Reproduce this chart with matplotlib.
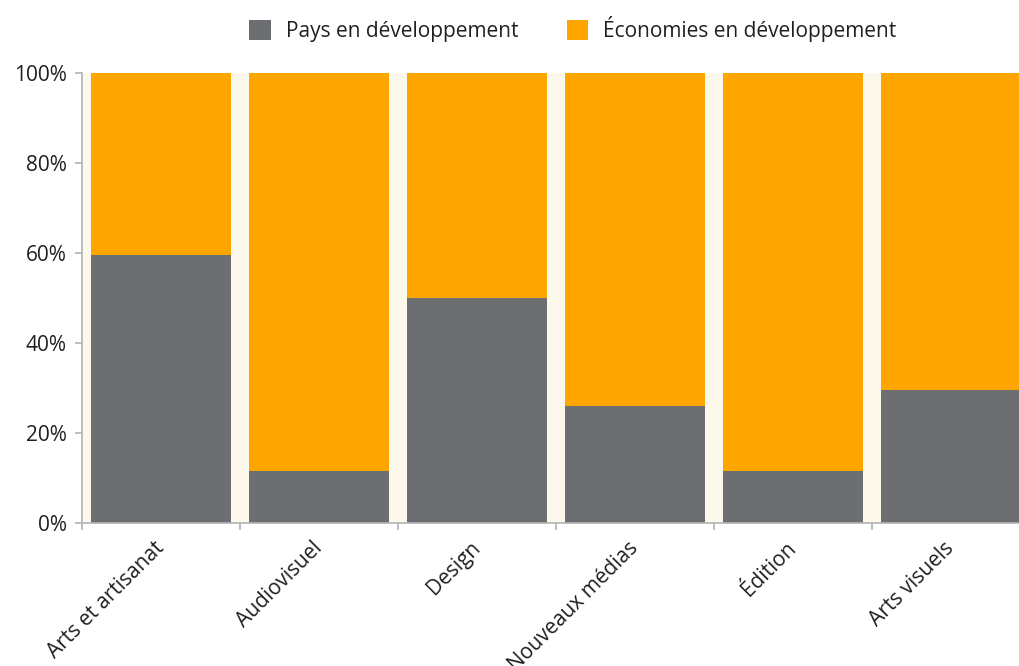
import matplotlib.pyplot as plt
import numpy as np
from matplotlib.ticker import PercentFormatter

plt.rcParams["font.family"] = ["Open Sans", "DejaVu Sans"]

categories = ["Arts et artisanat", "Audiovisuel", "Design", "Nouveaux médias", "Édition", "Arts visuels"]
pays = [0.595, 0.116, 0.50, 0.261, 0.116, 0.296]
economies = [1 - v for v in pays]

gray = "#6d6e71"
orange = "#ffa500"
cream = "#fdf8ec"
axis_col = "#b3b3b3"

fig = plt.figure(figsize=(10.2, 6.66), dpi=100)
ax = fig.add_axes([82 / 1020, 143 / 666, 948 / 1020, 450 / 666])
ax.set_facecolor(cream)

x = np.arange(len(categories))
width = 0.886
ax.bar(x, pays, width, color=gray, label="Pays en développement")
ax.bar(x, economies, width, bottom=pays, color=orange, label="Économies en développement")

ax.set_xlim(-0.5, len(categories) - 0.5)
ax.set_ylim(0, 1)
ax.yaxis.set_major_formatter(PercentFormatter(1.0, decimals=0))
ax.set_yticks(np.arange(0, 1.01, 0.2))

ax.set_xticks(x)
ax.set_xticks(np.arange(-0.5, len(categories) - 0.5, 1), minor=True)
ax.set_xticklabels(categories, rotation=45, ha="right", va="center", rotation_mode="anchor")
ax.tick_params(axis="x", which="major", length=0, pad=16, labelsize=15, labelcolor="#231f20")
ax.tick_params(axis="x", which="minor", length=5, color=axis_col, width=1.2)
ax.tick_params(axis="y", length=5, color=axis_col, width=1.2, labelsize=15, labelcolor="#231f20", pad=6)

for s in ["top", "right"]:
    ax.spines[s].set_visible(False)
for s in ["left", "bottom"]:
    ax.spines[s].set_color(axis_col)
    ax.spines[s].set_linewidth(1.2)

fig.legend(loc="center", bbox_to_anchor=(573 / 1020, 1 - 29 / 666), ncol=2, frameon=False,
           fontsize=15, handlelength=1.05, handleheight=1.05, columnspacing=2.3, handletextpad=0.72,
           labelcolor="#231f20")

fig.savefig("out.png", dpi=100)
